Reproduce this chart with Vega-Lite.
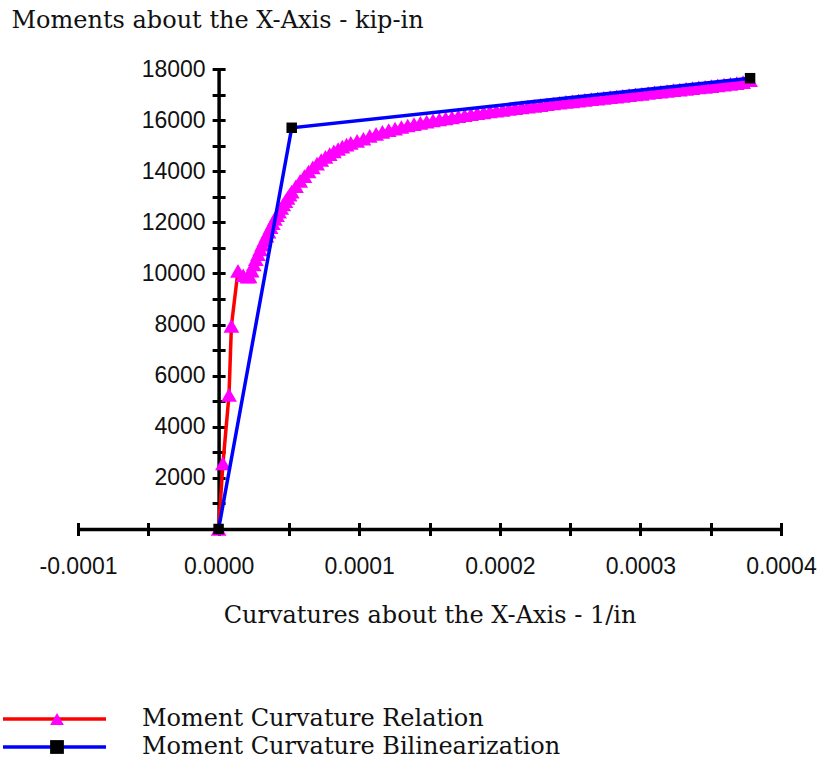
{
  "$schema": "https://vega.github.io/schema/vega-lite/v6.json",
  "width": 703,
  "height": 460,
  "autosize": {"type": "none"},
  "padding": {"left": 78, "top": 69, "right": 45, "bottom": 244},
  "background": "white",
  "config": {"view": {"stroke": null}},
  "datasets": {
    "relation": [
      {"k": 0, "m": 0}, {"k": 0.31e-5, "m": 2570}, {"k": 0.74e-5, "m": 5250}, {"k": 0.91e-5, "m": 7950},
      {"k": 1.38e-5, "m": 10100}, {"k": 1.75e-5, "m": 9930}, {"k": 2.05e-5, "m": 9870},
      {"k": 2.20e-5, "m": 9880}, {"k": 2.35e-5, "m": 10110}, {"k": 2.50e-5, "m": 10350}, {"k": 2.65e-5, "m": 10560},
      {"k": 2.80e-5, "m": 10750}, {"k": 2.95e-5, "m": 10940}, {"k": 3.10e-5, "m": 11130}, {"k": 3.25e-5, "m": 11300},
      {"k": 3.40e-5, "m": 11480}, {"k": 3.55e-5, "m": 11640}, {"k": 3.70e-5, "m": 11810}, {"k": 3.85e-5, "m": 11970},
      {"k": 4.00e-5, "m": 12130}, {"k": 4.15e-5, "m": 12280}, {"k": 4.30e-5, "m": 12420}, {"k": 4.45e-5, "m": 12560},
      {"k": 4.60e-5, "m": 12700}, {"k": 4.75e-5, "m": 12830}, {"k": 4.90e-5, "m": 12960}, {"k": 5.05e-5, "m": 13080},
      {"k": 5.20e-5, "m": 13200}, {"k": 5.50e-5, "m": 13420}, {"k": 5.80e-5, "m": 13620}, {"k": 6.10e-5, "m": 13810},
      {"k": 6.40e-5, "m": 13990}, {"k": 6.70e-5, "m": 14150}, {"k": 7.00e-5, "m": 14300}, {"k": 7.30e-5, "m": 14440},
      {"k": 7.60e-5, "m": 14560}, {"k": 7.90e-5, "m": 14670}, {"k": 8.20e-5, "m": 14780}, {"k": 8.50e-5, "m": 14870},
      {"k": 8.80e-5, "m": 14960}, {"k": 9.10e-5, "m": 15040}, {"k": 9.40e-5, "m": 15110}, {"k": 9.85e-5, "m": 15190},
      {"k": 10.30e-5, "m": 15270}, {"k": 10.75e-5, "m": 15380}, {"k": 11.20e-5, "m": 15460}, {"k": 11.65e-5, "m": 15540},
      {"k": 12.10e-5, "m": 15610}, {"k": 12.55e-5, "m": 15670}, {"k": 13.00e-5, "m": 15730}, {"k": 13.45e-5, "m": 15790},
      {"k": 13.90e-5, "m": 15840}, {"k": 14.35e-5, "m": 15890}, {"k": 14.80e-5, "m": 15940}, {"k": 15.25e-5, "m": 15990},
      {"k": 15.70e-5, "m": 16030}, {"k": 16.15e-5, "m": 16070}, {"k": 16.60e-5, "m": 16110}, {"k": 17.05e-5, "m": 16150},
      {"k": 17.50e-5, "m": 16190}, {"k": 17.95e-5, "m": 16230}, {"k": 18.40e-5, "m": 16270}, {"k": 18.85e-5, "m": 16300},
      {"k": 19.30e-5, "m": 16340}, {"k": 19.75e-5, "m": 16370}, {"k": 20.20e-5, "m": 16400}, {"k": 20.65e-5, "m": 16440},
      {"k": 21.10e-5, "m": 16470}, {"k": 21.55e-5, "m": 16500}, {"k": 22.00e-5, "m": 16530}, {"k": 22.45e-5, "m": 16560},
      {"k": 22.90e-5, "m": 16590}, {"k": 23.35e-5, "m": 16620}, {"k": 23.80e-5, "m": 16650}, {"k": 24.25e-5, "m": 16680},
      {"k": 24.70e-5, "m": 16710}, {"k": 25.15e-5, "m": 16730}, {"k": 25.60e-5, "m": 16760}, {"k": 26.05e-5, "m": 16790},
      {"k": 26.50e-5, "m": 16820}, {"k": 26.95e-5, "m": 16840}, {"k": 27.40e-5, "m": 16870}, {"k": 27.85e-5, "m": 16900},
      {"k": 28.30e-5, "m": 16920}, {"k": 28.75e-5, "m": 16950}, {"k": 29.20e-5, "m": 16980}, {"k": 29.65e-5, "m": 17010},
      {"k": 30.10e-5, "m": 17030}, {"k": 30.55e-5, "m": 17060}, {"k": 31.00e-5, "m": 17090}, {"k": 31.45e-5, "m": 17110},
      {"k": 31.90e-5, "m": 17140}, {"k": 32.35e-5, "m": 17170}, {"k": 32.80e-5, "m": 17190}, {"k": 33.25e-5, "m": 17220},
      {"k": 33.70e-5, "m": 17250}, {"k": 34.15e-5, "m": 17280}, {"k": 34.60e-5, "m": 17300}, {"k": 35.05e-5, "m": 17330},
      {"k": 35.50e-5, "m": 17360}, {"k": 35.95e-5, "m": 17390}, {"k": 36.40e-5, "m": 17420}, {"k": 36.85e-5, "m": 17450},
      {"k": 37.30e-5, "m": 17490}, {"k": 37.80e-5, "m": 17560}
    ],
    "bilinear": [
      {"k": 0, "m": 0}, {"k": 5.2e-5, "m": 15700}, {"k": 37.8e-5, "m": 17640}
    ]
  },
  "layer": [
    {
      "data": {"name": "relation"},
      "mark": {"type": "line", "strokeWidth": 3.5},
      "encoding": {
        "x": {
          "field": "k", "type": "quantitative",
          "scale": {"domain": [-0.0001, 0.0004], "nice": false, "zero": false},
          "axis": {
            "orient": "bottom",
            "values": [-0.0001, 0, 0.0001, 0.0002, 0.0003, 0.0004],
            "labelExpr": "datum.value < 0 ? '-' + format(-datum.value, '.4f') : format(datum.value, '.4f')",
            "ticks": false, "tickSize": 0, "grid": false,
            "domainColor": "black", "domainWidth": 3.5,
            "labelFont": "Liberation Sans", "labelFontSize": 23, "labelColor": "#111",
            "labelPadding": 26, "labelFlush": false, "labelOverlap": false,
            "title": "Curvatures about the X-Axis - 1/in",
            "titleFont": "DejaVu Serif", "titleFontSize": 24, "titleFontWeight": "normal", "titleColor": "#111",
            "titleBaseline": "alphabetic", "titleY": 93
          }
        },
        "y": {
          "field": "m", "type": "quantitative",
          "scale": {"domain": [0, 18000], "nice": false},
          "axis": {
            "orient": "left", "offset": -140.6,
            "values": [2000, 4000, 6000, 8000, 10000, 12000, 14000, 16000, 18000],
            "format": "d",
            "ticks": false, "tickSize": 0, "grid": false,
            "domainColor": "black", "domainWidth": 3.5,
            "labelFont": "Liberation Sans", "labelFontSize": 23, "labelColor": "#111",
            "labelPadding": 13.5, "labelOverlap": false, "labelFlush": false,
            "title": "Moments about the X-Axis - kip-in",
            "titleFont": "DejaVu Serif", "titleFontSize": 24, "titleFontWeight": "normal", "titleColor": "#111",
            "titleAngle": 0, "titleAlign": "left", "titleBaseline": "alphabetic",
            "titleX": -207.6, "titleY": -42
          }
        },
        "stroke": {
          "datum": "Moment Curvature Relation", "type": "nominal",
          "scale": {"domain": ["Moment Curvature Relation", "Moment Curvature Bilinearization"], "range": ["#ff0000", "#0000ff"]},
          "legend": {
            "title": null, "orient": "none", "legendX": -77, "legendY": 636,
            "symbolType": "stroke", "symbolSize": 10609, "symbolStrokeWidth": 3.5,
            "clipHeight": 28, "rowPadding": 0, "padding": 0,
            "labelFont": "DejaVu Serif", "labelFontSize": 24, "labelColor": "#111",
            "labelOffset": 34, "labelLimit": 600
          }
        }
      }
    },
    {
      "data": {"name": "relation"},
      "mark": {"type": "point", "filled": true, "size": 250, "opacity": 1, "strokeWidth": 0},
      "encoding": {
        "x": {
          "field": "k", "type": "quantitative",
          "axis": {
            "orient": "bottom", "offset": -6.5,
            "values": [-0.0001, -0.00005, 0, 0.00005, 0.0001, 0.00015, 0.0002, 0.00025, 0.0003, 0.00035, 0.0004],
            "ticks": true, "tickSize": 13, "tickWidth": 3, "tickColor": "black",
            "labels": false, "domain": false, "grid": false, "title": null
          }
        },
        "y": {
          "field": "m", "type": "quantitative",
          "axis": {
            "orient": "left", "offset": -147.1,
            "values": [0, 1000, 2000, 3000, 4000, 5000, 6000, 7000, 8000, 9000, 10000, 11000, 12000, 13000, 14000, 15000, 16000, 17000, 18000],
            "ticks": true, "tickSize": 13, "tickWidth": 3, "tickColor": "black",
            "labels": false, "domain": false, "grid": false, "title": null
          }
        },
        "fill": {
          "datum": "Relation marker", "type": "nominal",
          "scale": {"domain": ["Relation marker", "Bilinearization marker"], "range": ["#ff00ff", "#000000"]},
          "legend": {
            "title": null, "orient": "none", "legendX": -33, "legendY": 636,
            "symbolSize": 190, "symbolStrokeWidth": 0,
            "clipHeight": 28, "rowPadding": 0, "padding": 0,
            "labelExpr": "''", "labelFontSize": 24
          }
        },
        "shape": {
          "datum": "Relation marker", "type": "nominal",
          "scale": {"domain": ["Relation marker", "Bilinearization marker"], "range": ["triangle-up", "square"]},
          "legend": {
            "title": null, "orient": "none", "legendX": -33, "legendY": 636,
            "symbolSize": 190, "symbolStrokeWidth": 0,
            "clipHeight": 28, "rowPadding": 0, "padding": 0,
            "labelExpr": "''", "labelFontSize": 24
          }
        }
      }
    },
    {
      "data": {"name": "bilinear"},
      "mark": {"type": "line", "strokeWidth": 3.5},
      "encoding": {
        "x": {"field": "k", "type": "quantitative", "axis": null},
        "y": {"field": "m", "type": "quantitative", "axis": null},
        "stroke": {"datum": "Moment Curvature Bilinearization", "type": "nominal"}
      }
    },
    {
      "data": {"name": "bilinear"},
      "mark": {"type": "point", "filled": true, "size": 110, "opacity": 1, "strokeWidth": 0},
      "encoding": {
        "x": {"field": "k", "type": "quantitative", "axis": null},
        "y": {"field": "m", "type": "quantitative", "axis": null},
        "fill": {"datum": "Bilinearization marker", "type": "nominal"},
        "shape": {"datum": "Bilinearization marker", "type": "nominal"}
      }
    }
  ],
  "resolve": {"axis": {"x": "independent", "y": "independent"}}
}
